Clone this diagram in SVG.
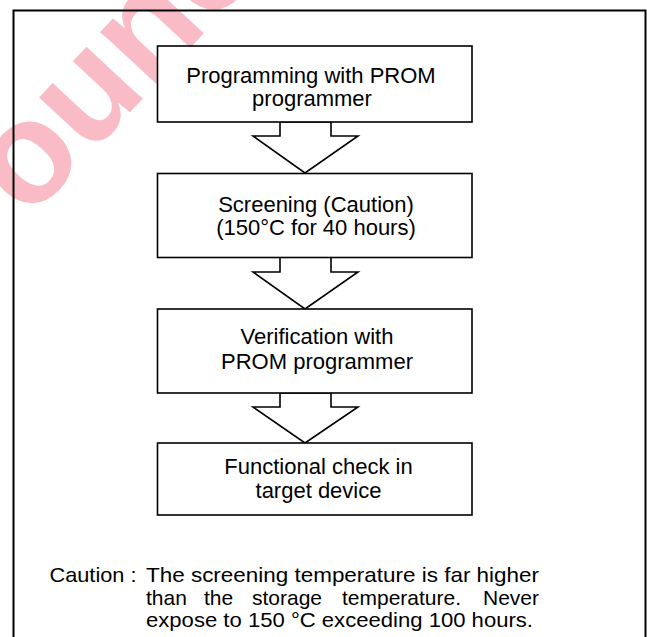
<svg xmlns="http://www.w3.org/2000/svg" width="647" height="637" viewBox="0 0 647 637">
<style>
.box{fill:#fff;stroke:#000;stroke-width:1.6}
.arr{fill:#fff;stroke:#000;stroke-width:1.6;stroke-linejoin:miter}
.t{font-family:"Liberation Sans",Arial,sans-serif;font-size:22px;fill:#000;text-anchor:middle}
.c{font-family:"Liberation Sans",Arial,sans-serif;font-size:21px;fill:#000}
.wm{font-family:"Liberation Sans",Arial,sans-serif;font-size:145px;font-weight:bold;fill:#f9bcc6}
</style>
<rect x="0" y="0" width="647" height="637" fill="#fff"/>
<text class="wm" transform="translate(28.6,221) rotate(-47)">ounc</text>
<rect x="13.5" y="10.5" width="632" height="700" fill="none" stroke="#000" stroke-width="2"/>
<g id="connectors">
<polygon class="arr" points="280,122 280,136 253,136 305,173 358,136 331,136 331,122"/>
<polygon class="arr" points="280,257 280,272 253,272 305,309 358,272 331,272 331,257"/>
<polygon class="arr" points="280,393 280,407 253,407 305,443 358,407 331,407 331,393"/>
</g>
<g id="n1"><rect class="box" x="157.5" y="46" width="314.5" height="76"/>
<text class="t" x="311" y="83">Programming with PROM</text><text class="t" x="312" y="106">programmer</text></g>
<g id="n2"><rect class="box" x="157.5" y="173.5" width="314.5" height="84"/>
<text class="t" x="316" y="211.5">Screening (Caution)</text><text class="t" x="316" y="235">(150°C for 40 hours)</text></g>
<g id="n3"><rect class="box" x="157.5" y="309" width="314.5" height="84"/>
<text class="t" x="317" y="344">Verification with</text><text class="t" x="317" y="369">PROM programmer</text></g>
<g id="n4"><rect class="box" x="157.5" y="443" width="314.5" height="72"/>
<text class="t" x="318.5" y="474">Functional check in</text><text class="t" x="318.5" y="498">target device</text></g>
<g id="caution">
<text class="c" x="49.5" y="582" textLength="87" lengthAdjust="spacingAndGlyphs">Caution :</text>
<text class="c" x="146" y="582" textLength="393" lengthAdjust="spacingAndGlyphs">The screening temperature is far higher</text>
<text class="c" x="146" y="604.5">than</text>
<text class="c" x="204" y="604.5">the</text>
<text class="c" x="252" y="604.5">storage</text>
<text class="c" x="342" y="604.5">temperature.</text>
<text class="c" x="539" y="604.5" text-anchor="end">Never</text>
<text class="c" x="146" y="627" textLength="387" lengthAdjust="spacingAndGlyphs">expose to 150 °C exceeding 100 hours.</text>
</g>
</svg>
